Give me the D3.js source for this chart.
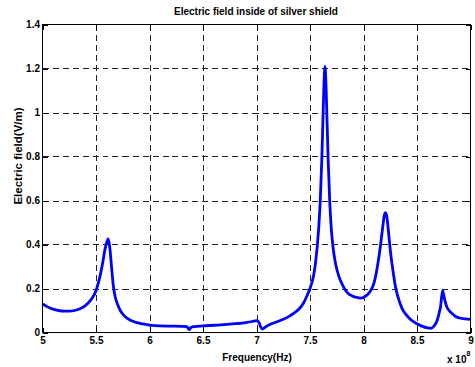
<!DOCTYPE html>
<html>
<head>
<meta charset="utf-8">
<script src="https://cdn.jsdelivr.net/npm/d3@7"></script>
<style>
  body { margin: 0; background: #fff; }
  text { font-family: "Liberation Sans", Arial, Helvetica, sans-serif; font-weight: bold; font-size: 10px; fill: #000; }
</style>
</head>
<body>
<svg id="chart" width="475" height="367"></svg>
<script>
// Frequency in units of 10^8 Hz
const freqs = [
  5.00, 5.05, 5.10, 5.15, 5.20, 5.25, 5.30, 5.35, 5.40, 5.45,
  5.50, 5.53, 5.56, 5.585, 5.60, 5.614, 5.628, 5.645, 5.66, 5.68,
  5.70, 5.73, 5.76, 5.80, 5.85, 5.90, 5.95, 6.00, 6.10, 6.20,
  6.30, 6.35, 6.37, 6.39, 6.42, 6.50, 6.60, 6.70, 6.80, 6.90,
  6.96, 7.00, 7.02, 7.04, 7.055, 7.08, 7.12, 7.16, 7.20, 7.25,
  7.30, 7.35, 7.40, 7.44, 7.47, 7.50, 7.53, 7.55, 7.58, 7.595,
  7.61, 7.62, 7.63, 7.64, 7.65, 7.66, 7.67, 7.685, 7.70, 7.72,
  7.74, 7.77, 7.80, 7.85, 7.90, 7.95, 7.98, 8.02, 8.06, 8.10,
  8.13, 8.16, 8.18, 8.195, 8.205, 8.215, 8.24, 8.255, 8.27, 8.30,
  8.32, 8.36, 8.40, 8.45, 8.50, 8.55, 8.60, 8.63, 8.66, 8.69,
  8.71, 8.72, 8.73, 8.74, 8.75, 8.76, 8.78, 8.80, 8.83, 8.86,
  8.90, 8.95, 9.00
];

// Electric field magnitude (V/m)
const field = [
  0.130, 0.116, 0.106, 0.100, 0.097, 0.097, 0.100, 0.108, 0.122, 0.147,
  0.190, 0.240, 0.310, 0.380, 0.410, 0.425, 0.390, 0.300, 0.220, 0.160,
  0.130, 0.098, 0.078, 0.062, 0.050, 0.043, 0.038, 0.034, 0.030, 0.029,
  0.028, 0.027, 0.013, 0.024, 0.027, 0.030, 0.033, 0.036, 0.040, 0.045,
  0.050, 0.054, 0.048, 0.025, 0.016, 0.024, 0.035, 0.043, 0.050, 0.060,
  0.072, 0.088, 0.108, 0.134, 0.165, 0.200, 0.250, 0.310, 0.465, 0.590,
  0.780, 0.950, 1.120, 1.210, 1.120, 0.950, 0.780, 0.590, 0.465, 0.370,
  0.310, 0.255, 0.220, 0.180, 0.165, 0.158, 0.156, 0.165, 0.185, 0.228,
  0.300, 0.400, 0.480, 0.535, 0.545, 0.535, 0.425, 0.355, 0.300, 0.205,
  0.165, 0.110, 0.080, 0.055, 0.040, 0.028, 0.021, 0.019, 0.030, 0.057,
  0.095, 0.117, 0.160, 0.190, 0.170, 0.147, 0.115, 0.100, 0.085, 0.073,
  0.066, 0.062, 0.060
];

const xTicks = [5, 5.5, 6, 6.5, 7, 7.5, 8, 8.5, 9];
const xTickLabels = ["5", "5.5", "6", "6.5", "7", "7.5", "8", "8.5", "9"];
const yTicks = [0, 0.2, 0.4, 0.6, 0.8, 1.0, 1.2, 1.4];
const yTickLabels = ["0", "0.2", "0.4", "0.6", "0.8", "1", "1.2", "1.4"];

const titleText = "Electric field inside of silver shield";
const xLabelText = "Frequency(Hz)";
const yLabelText = "Electric field(V/m)";

const svg = d3.select("#chart");
const plotLeft = 42.5, plotRight = 470.5, plotTop = 24.5, plotBottom = 332.5;

const x = d3.scaleLinear().domain([5, 9]).range([plotLeft, plotRight]);
const y = d3.scaleLinear().domain([0, 1.4]).range([plotBottom, plotTop]);

// dashed grid
const grid = svg.append("g").attr("stroke", "#222").attr("stroke-width", 1)
  .attr("stroke-dasharray", "6,4").attr("shape-rendering", "crispEdges");
grid.selectAll("line.gx").data(xTicks.slice(1, -1)).join("line")
  .attr("x1", d => Math.round(x(d)) + 0.5).attr("x2", d => Math.round(x(d)) + 0.5)
  .attr("y1", plotTop).attr("y2", plotBottom);
grid.selectAll("line.gy").data(yTicks.slice(1, -1)).join("line")
  .attr("y1", d => Math.round(y(d)) + 0.5).attr("y2", d => Math.round(y(d)) + 0.5)
  .attr("x1", plotLeft).attr("x2", plotRight);

// curve
const line = d3.line().x(d => x(d[0])).y(d => y(d[1])).curve(d3.curveMonotoneX);
svg.append("path")
  .datum(freqs.map((f, i) => [f, field[i]]))
  .attr("d", line)
  .attr("fill", "none")
  .attr("stroke", "#0000ff")
  .attr("stroke-width", 2.8)
  .attr("stroke-linejoin", "round");

// axes with inward ticks on all four sides
const fmtX = (d, i) => xTickLabels[i];
const fmtY = (d, i) => yTickLabels[i];
const styleAxis = g => {
  g.select(".domain").remove();
  g.selectAll(".tick line").attr("stroke", "#000").attr("shape-rendering", "crispEdges");
  g.selectAll(".tick text").attr("fill", "#000")
    .style("font-family", '"Liberation Sans", Arial, Helvetica, sans-serif')
    .style("font-weight", "bold").style("font-size", "10px");
};

svg.append("g").attr("transform", `translate(0,${plotBottom})`)
  .call(d3.axisBottom(x).tickValues(xTicks).tickFormat(fmtX).tickSize(-5).tickPadding(4))
  .call(styleAxis);
svg.append("g").attr("transform", `translate(${plotLeft},0)`)
  .call(d3.axisLeft(y).tickValues(yTicks).tickFormat(fmtY).tickSize(-5).tickPadding(2.5))
  .call(styleAxis);
svg.append("g").attr("transform", `translate(0,${plotTop})`)
  .call(d3.axisTop(x).tickValues(xTicks).tickFormat("").tickSize(-5))
  .call(styleAxis);
svg.append("g").attr("transform", `translate(${plotRight},0)`)
  .call(d3.axisRight(y).tickValues(yTicks).tickFormat("").tickSize(-5))
  .call(styleAxis);

// frame
svg.append("rect")
  .attr("x", plotLeft).attr("y", plotTop)
  .attr("width", plotRight - plotLeft).attr("height", plotBottom - plotTop)
  .attr("fill", "none").attr("stroke", "#000").attr("stroke-width", 1)
  .attr("shape-rendering", "crispEdges");

// title and labels
svg.append("text").attr("x", 256).attr("y", 15).attr("text-anchor", "middle").text(titleText);
svg.append("text").attr("x", 257).attr("y", 360.5).attr("text-anchor", "middle").text(xLabelText);
svg.append("text")
  .attr("transform", "translate(22,156) rotate(-90)")
  .attr("text-anchor", "middle")
  .style("font-size", "11.5px")
  .text(yLabelText);

// exponent of the frequency axis
const expo = svg.append("text").attr("x", 447).attr("y", 362.5);
expo.append("tspan").text("x 10");
expo.append("tspan").attr("dy", -7).style("font-size", "7px").text("8");
</script>
</body>
</html>
